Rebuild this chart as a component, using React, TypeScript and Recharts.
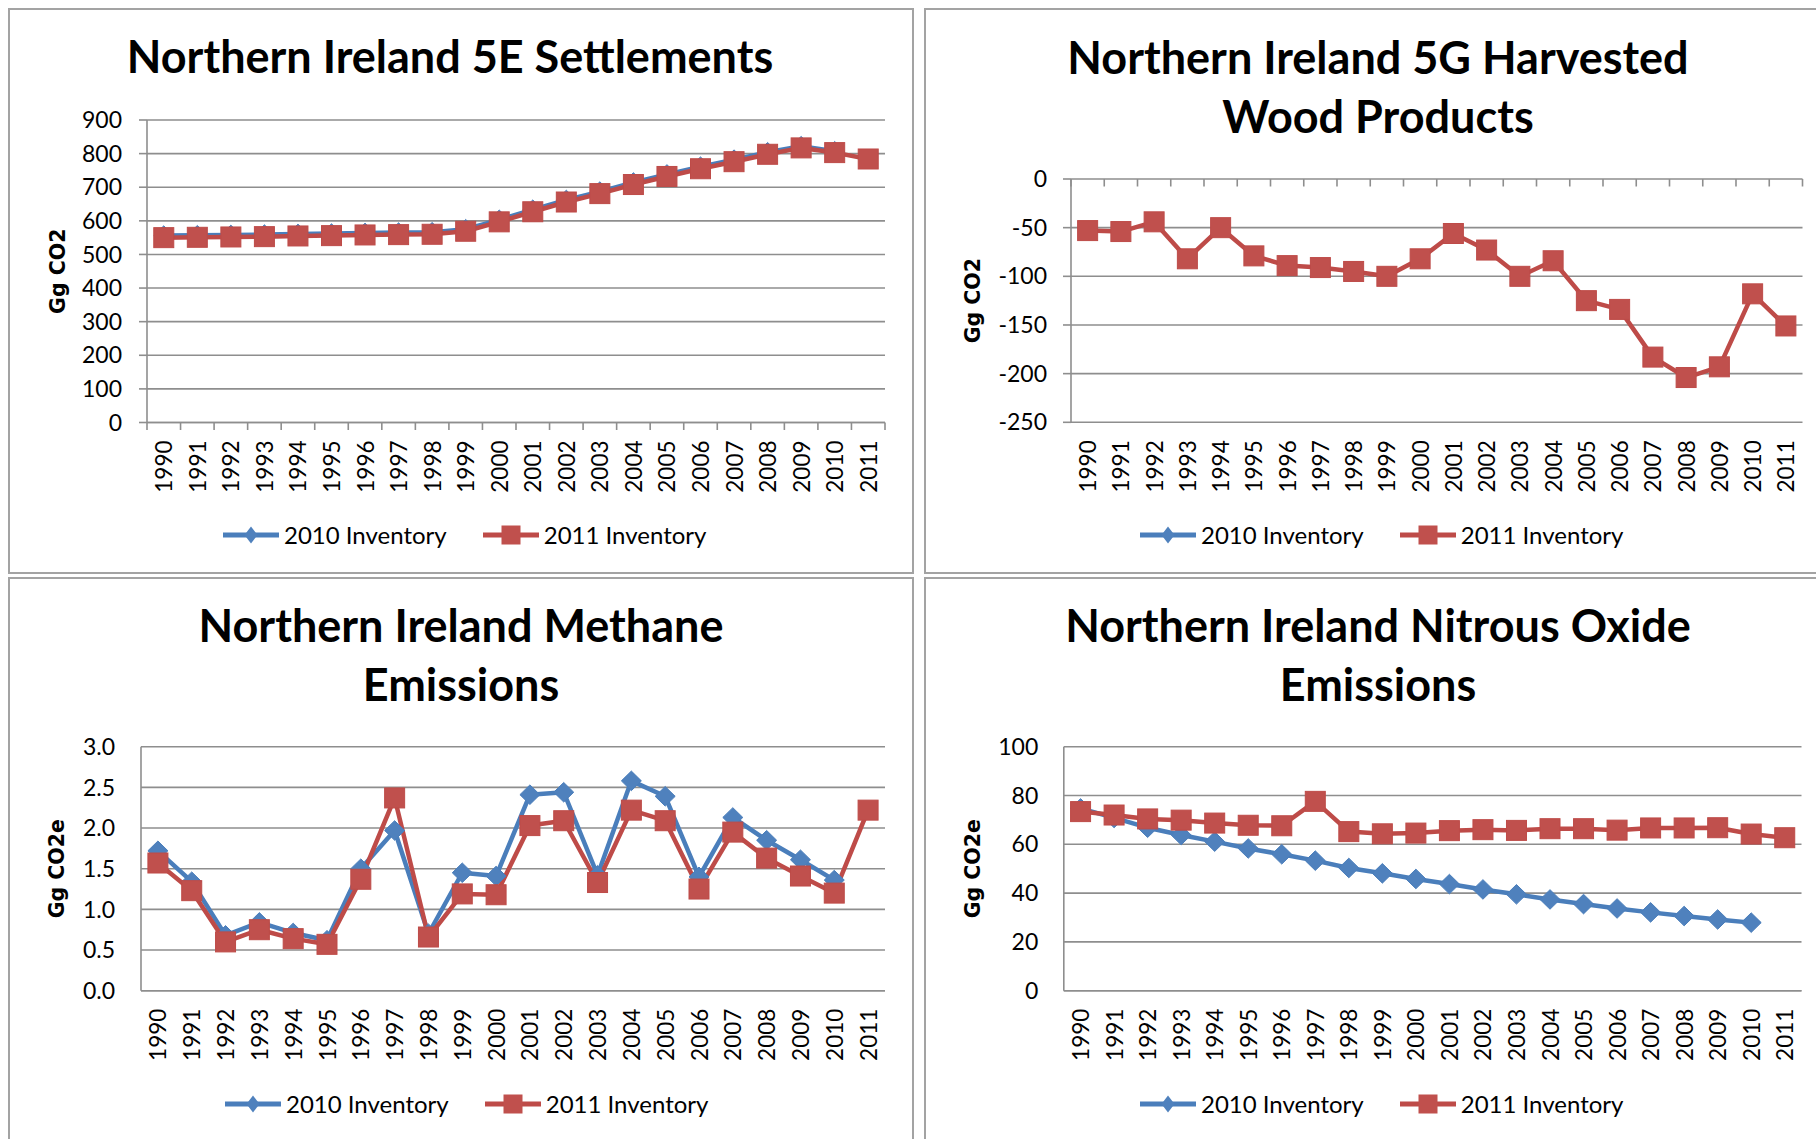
import React from 'react';
import { LineChart, Line, XAxis, YAxis, CartesianGrid, Legend } from 'recharts';

// ---------- data ----------
const years = ['1990','1991','1992','1993','1994','1995','1996','1997','1998','1999','2000','2001','2002','2003','2004','2005','2006','2007','2008','2009','2010','2011'];

const settlements2010 = [556, 557, 558, 559, 561, 562, 564, 565, 566, 575, 603, 633, 662, 687, 714, 738, 761, 782, 804, 822, 807, null];
const settlements2011 = [550, 551, 552, 553, 555, 556, 558, 559, 560, 569, 597, 627, 656, 681, 708, 732, 755, 776, 798, 817, 803, 784];

const hwp2010: (number | null)[] = [null, null, null, null, null, null, null, null, null, null, null, null, null, null, null, null, null, null, null, null, null, null];
const hwp2011 = [-53, -54, -44, -82, -50, -79, -89, -91, -95, -100, -82, -56, -73, -100, -84, -125, -134, -183, -204, -193, -118, -151];

const methane2010 = [1.72, 1.34, 0.68, 0.84, 0.71, 0.62, 1.50, 1.97, 0.70, 1.45, 1.41, 2.41, 2.44, 1.42, 2.58, 2.39, 1.40, 2.13, 1.85, 1.61, 1.36, null];
const methane2011 = [1.57, 1.23, 0.60, 0.75, 0.64, 0.57, 1.37, 2.37, 0.66, 1.19, 1.18, 2.03, 2.09, 1.33, 2.22, 2.09, 1.25, 1.95, 1.63, 1.41, 1.20, 2.22];

const nitrous2010 = [74.7, 70.8, 66.8, 63.8, 61.1, 58.3, 55.9, 53.3, 50.3, 48.1, 45.8, 43.7, 41.5, 39.5, 37.4, 35.5, 33.7, 32.1, 30.6, 29.2, 27.9, null];
const nitrous2011 = [73.4, 72.0, 70.4, 69.9, 68.7, 67.8, 67.6, 77.6, 65.2, 64.3, 64.6, 65.6, 66.0, 65.7, 66.4, 66.4, 65.8, 66.7, 66.7, 66.8, 64.2, 62.7];

const settlementsTicks = [0, 100, 200, 300, 400, 500, 600, 700, 800, 900];
const hwpTicks = [-250, -200, -150, -100, -50, 0];
const methaneTicks = [0, 0.5, 1.0, 1.5, 2.0, 2.5, 3.0];
const nitrousTicks = [0, 20, 40, 60, 80, 100];

const seriesNames = ['2010 Inventory', '2011 Inventory'];

// ---------- styles ----------
const GRID = '#8e8e8e';
const BLUE_LINE = '#4a7ebb';
const BLUE_FILL = '#4f81bd';
const RED_LINE = '#be4b48';
const RED_FILL = '#c0504d';
const LINE_W = 4.5;
const FONT = 'Lato, "Open Sans", sans-serif';

const build = (a: (number | null)[], b: (number | null)[]) =>
  years.map((y, i) => ({ year: y, inv2010: a[i], inv2011: b[i] }));

// ---------- marks ----------
const Diamond = (p: any) => {
  const { cx, cy } = p;
  if (cx == null || cy == null || Number.isNaN(cx) || Number.isNaN(cy)) return <g key={p.key ?? `d${p.index}`} />;
  const w = 10, h = 9.8;
  return (
    <polygon
      key={p.key ?? `d${p.index}`}
      points={`${cx},${cy - h} ${cx + w},${cy} ${cx},${cy + h} ${cx - w},${cy}`}
      fill={BLUE_FILL}
      stroke={BLUE_LINE}
      strokeWidth={1}
    />
  );
};

const Square = (p: any) => {
  const { cx, cy } = p;
  if (cx == null || cy == null || Number.isNaN(cx) || Number.isNaN(cy)) return <g key={p.key ?? `s${p.index}`} />;
  const s = 10;
  return (
    <rect key={p.key ?? `s${p.index}`} x={cx - s} y={cy - s} width={2 * s} height={2 * s} fill={RED_FILL} stroke={RED_LINE} strokeWidth={1} />
  );
};

const YearTick = (props: any) => {
  const { x, y, payload, index, visibleTicksCount, half, lineY, showLines, gap } = props;
  const ly = lineY != null ? lineY : y;
  const last = index === (visibleTicksCount ?? years.length) - 1;
  return (
    <g>
      {showLines && <line x1={x - half} x2={x - half} y1={ly} y2={ly + 7.5} stroke={GRID} strokeWidth={1.6} />}
      {showLines && last && <line x1={x + half} x2={x + half} y1={ly} y2={ly + 7.5} stroke={GRID} strokeWidth={1.6} />}
      <text
        x={0}
        y={0}
        transform={`translate(${x},${y + gap}) rotate(-90)`}
        textAnchor="end"
        dominantBaseline="central"
        fontFamily={FONT}
        fontSize={22.5}
        fill="#000"
      >
        {payload.value}
      </text>
    </g>
  );
};

const AxisTitle = (props: any) => {
  const { viewBox, text, baseX, fallbackY } = props;
  const cy = viewBox && viewBox.height != null ? viewBox.y + viewBox.height / 2 : fallbackY;
  return (
    <text
      x={baseX}
      y={cy}
      transform={`rotate(-90, ${baseX}, ${cy})`}
      textAnchor="middle"
      fontFamily='"DejaVu Sans", sans-serif'
      fontWeight="bold"
      fontSize={20.5}
      fill="#000"
    >
      {text}
    </text>
  );
};

const LegendContent = () => (
  <div style={{ display: 'flex', alignItems: 'center', fontFamily: FONT, fontSize: 24, color: '#000', whiteSpace: 'nowrap', height: 30 }}>
    {seriesNames.map((name, i) => (
      <div key={name} style={{ display: 'flex', alignItems: 'center', marginLeft: i ? 36 : 0 }}>
        <svg width={56} height={24} style={{ display: 'block' }}>
          <line x1={0} x2={56} y1={12} y2={12} stroke={i ? RED_LINE : BLUE_LINE} strokeWidth={5} />
          {i ? (
            <rect x={18.5} y={2.5} width={19} height={19} fill={RED_FILL} />
          ) : (
            <polygon points="28,3.5 34.5,12 28,20.5 21.5,12" fill={BLUE_FILL} />
          )}
        </svg>
        <span style={{ marginLeft: 5, lineHeight: '30px' }}>{name}</span>
      </div>
    ))}
  </div>
);

// ---------- panels ----------
type PanelCfg = {
  id: string;
  left: number; top: number; width: number; height: number;
  plot: { left: number; right: number; top: number; bottom: number };
  title: string[]; titleX: number; titleBase: number;
  yLabel: string;
  ticks: number[]; domain: [number, number]; fmt?: (v: number) => string;
  yTickLines: boolean; yTickMargin: number;
  xTicksTop: boolean;
  data: any[];
  legendLeft: number;
};

const panels: PanelCfg[] = [
  {
    id: 'p1', left: 8, top: 8, width: 906, height: 566,
    plot: { left: 139, right: 877, top: 112, bottom: 414.5 },
    title: ['Northern Ireland 5E Settlements'], titleX: 442, titleBase: 66,
    yLabel: 'Gg CO2', ticks: settlementsTicks, domain: [0, 900],
    yTickLines: true, yTickMargin: 17, xTicksTop: false,
    data: build(settlements2010, settlements2011), legendLeft: 215,
  },
  {
    id: 'p2', left: 924, top: 8, width: 900, height: 566,
    plot: { left: 147, right: 878.5, top: 171, bottom: 414.3 },
    title: ['Northern Ireland 5G Harvested', 'Wood Products'], titleX: 454, titleBase: 67,
    yLabel: 'Gg CO2', ticks: hwpTicks, domain: [-250, 0],
    yTickLines: true, yTickMargin: 16, xTicksTop: true,
    data: build(hwp2010, hwp2011), legendLeft: 216,
  },
  {
    id: 'p3', left: 8, top: 577, width: 906, height: 570,
    plot: { left: 133, right: 877, top: 169.7, bottom: 413.7 },
    title: ['Northern Ireland Methane', 'Emissions'], titleX: 453, titleBase: 66,
    yLabel: 'Gg CO2e', ticks: methaneTicks, domain: [0, 3], fmt: (v: number) => v.toFixed(1),
    yTickLines: false, yTickMargin: 26, xTicksTop: false,
    data: build(methane2010, methane2011), legendLeft: 217,
  },
  {
    id: 'p4', left: 924, top: 577, width: 900, height: 570,
    plot: { left: 139.8, right: 877.5, top: 169.7, bottom: 413.7 },
    title: ['Northern Ireland Nitrous Oxide', 'Emissions'], titleX: 454, titleBase: 66,
    yLabel: 'Gg CO2e', ticks: nitrousTicks, domain: [0, 100],
    yTickLines: false, yTickMargin: 25.5, xTicksTop: false,
    data: build(nitrous2010, nitrous2011), legendLeft: 216,
  },
];

const LEGEND_CY = 527;
const TITLE_SIZE = 45;
const TITLE_LH = 58.5;

const Panel = ({ cfg }: { cfg: PanelCfg }) => {
  const { left, top, width, height, plot } = cfg;
  const margin = { top: plot.top, right: width - plot.right, bottom: 0, left: 0 };
  const xAxisHeight = height - plot.bottom;
  const half = (plot.right - plot.left) / years.length / 2;
  const showXTickLines = cfg.id === 'p1' || cfg.id === 'p2';
  const baseOffset = (TITLE_LH - 1.2 * TITLE_SIZE) / 2 + 0.987 * TITLE_SIZE;
  return (
    <div style={{ position: 'absolute', left, top, width, height }}>
      <LineChart width={width} height={height} data={cfg.data} margin={margin}>
        <CartesianGrid vertical={false} stroke={GRID} strokeWidth={1.6} />
        <XAxis
          dataKey="year"
          type="category"
          scale="band"
          interval={0}
          height={xAxisHeight}
          axisLine={cfg.xTicksTop ? false : { stroke: GRID, strokeWidth: 1.6 }}
          tickLine={false}
          tickSize={0}
          tickMargin={0}
          tick={
            <YearTick
              half={half}
              gap={18}
              showLines={showXTickLines}
              lineY={cfg.xTicksTop ? plot.top : undefined}
            />
          }
        />
        <YAxis
          type="number"
          domain={cfg.domain}
          ticks={cfg.ticks}
          interval={0}
          width={plot.left}
          allowDecimals
          tickFormatter={cfg.fmt}
          axisLine={{ stroke: GRID, strokeWidth: 1.6 }}
          tickLine={cfg.yTickLines ? { stroke: GRID, strokeWidth: 1.6 } : false}
          tickSize={cfg.yTickLines ? 8 : 0}
          tickMargin={cfg.yTickMargin}
          tick={{ fill: '#000', fontSize: 23, fontFamily: FONT }}
          label={<AxisTitle text={cfg.yLabel} baseX={56.5} fallbackY={(plot.top + plot.bottom) / 2} />}
        />
        <Legend
          layout="horizontal"
          verticalAlign="middle"
          align="center"
          wrapperStyle={{ left: cfg.legendLeft, top: LEGEND_CY - 15, width: 'auto', height: 30 }}
          content={<LegendContent />}
        />
        <Line
          type="linear"
          dataKey="inv2010"
          name={seriesNames[0]}
          stroke={BLUE_LINE}
          strokeWidth={LINE_W}
          strokeLinejoin="round"
          dot={Diamond}
          activeDot={false}
          isAnimationActive={false}
        />
        <Line
          type="linear"
          dataKey="inv2011"
          name={seriesNames[1]}
          stroke={RED_LINE}
          strokeWidth={LINE_W}
          strokeLinejoin="round"
          dot={Square}
          activeDot={false}
          isAnimationActive={false}
        />
      </LineChart>
      <div
        style={{
          position: 'absolute',
          left: cfg.titleX - 450,
          width: 900,
          top: cfg.titleBase - baseOffset,
          textAlign: 'center',
          fontFamily: FONT,
          fontWeight: 700,
          fontSize: TITLE_SIZE,
          lineHeight: `${TITLE_LH}px`,
          color: '#000',
          whiteSpace: 'nowrap',
        }}
      >
        {cfg.title.map((t) => (
          <div key={t}>{t}</div>
        ))}
      </div>
      <div
        style={{
          position: 'absolute',
          left: 0,
          top: 0,
          width,
          height,
          border: '2px solid #a3a3a3',
          boxSizing: 'border-box',
          pointerEvents: 'none',
        }}
      />
    </div>
  );
};

export default function App() {
  return (
    <div style={{ position: 'absolute', left: 0, top: 0, width: 1816, height: 1139, overflow: 'hidden', background: '#fff' }}>
      {panels.map((p) => (
        <Panel key={p.id} cfg={p} />
      ))}
    </div>
  );
}
